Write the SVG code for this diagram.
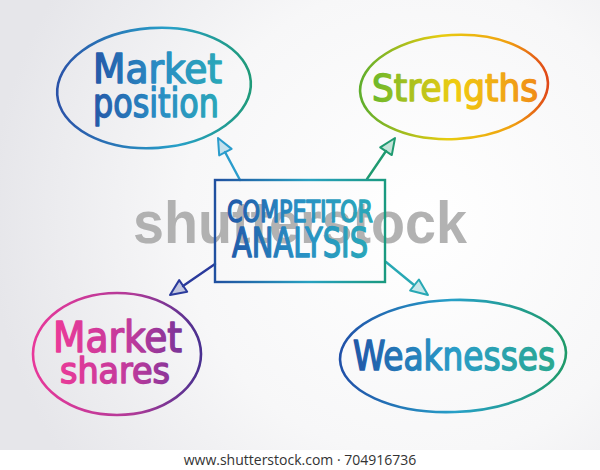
<svg xmlns="http://www.w3.org/2000/svg" width="600" height="470" viewBox="0 0 600 470">
<defs>
<radialGradient id="bg" cx="420" cy="220" r="430" gradientUnits="userSpaceOnUse">
<stop offset="0" stop-color="#ffffff"/><stop offset="0.55" stop-color="#f7f7f8"/><stop offset="1" stop-color="#e6e6ea"/>
</radialGradient>
<linearGradient id="gMP" x1="57" y1="0" x2="252" y2="0" gradientUnits="userSpaceOnUse">
<stop offset="0" stop-color="#2a52a8"/><stop offset="0.6" stop-color="#27a0c8"/><stop offset="1" stop-color="#1f9a78"/>
</linearGradient>
<linearGradient id="gMPt" x1="93" y1="0" x2="222" y2="0" gradientUnits="userSpaceOnUse">
<stop offset="0" stop-color="#2458a8"/><stop offset="0.5" stop-color="#2a8cc4"/><stop offset="1" stop-color="#2aa8b8"/>
</linearGradient>
<linearGradient id="gST" x1="360" y1="0" x2="548" y2="0" gradientUnits="userSpaceOnUse">
<stop offset="0" stop-color="#5fae2c"/><stop offset="0.45" stop-color="#e8cc10"/><stop offset="0.8" stop-color="#f0a010"/><stop offset="1" stop-color="#e04818"/>
</linearGradient>
<linearGradient id="gSTt" x1="372" y1="0" x2="538" y2="0" gradientUnits="userSpaceOnUse">
<stop offset="0" stop-color="#6cb82a"/><stop offset="0.5" stop-color="#f0cc10"/><stop offset="1" stop-color="#f08c18"/>
</linearGradient>
<linearGradient id="gBX" x1="215" y1="0" x2="385" y2="0" gradientUnits="userSpaceOnUse">
<stop offset="0" stop-color="#2050a0"/><stop offset="0.55" stop-color="#27a0c0"/><stop offset="1" stop-color="#1a9a80"/>
</linearGradient>
<linearGradient id="gBXt" x1="227" y1="0" x2="373" y2="0" gradientUnits="userSpaceOnUse">
<stop offset="0" stop-color="#2058a8"/><stop offset="0.5" stop-color="#2890c4"/><stop offset="1" stop-color="#2aa8b8"/>
</linearGradient>
<linearGradient id="gMS" x1="33" y1="0" x2="200" y2="0" gradientUnits="userSpaceOnUse">
<stop offset="0" stop-color="#e8389a"/><stop offset="0.6" stop-color="#b03a98"/><stop offset="1" stop-color="#4a3090"/>
</linearGradient>
<linearGradient id="gMSt" x1="53" y1="0" x2="182" y2="0" gradientUnits="userSpaceOnUse">
<stop offset="0" stop-color="#ec3a98"/><stop offset="0.6" stop-color="#c03a9c"/><stop offset="1" stop-color="#7a3498"/>
</linearGradient>
<linearGradient id="gWK" x1="340" y1="0" x2="567" y2="0" gradientUnits="userSpaceOnUse">
<stop offset="0" stop-color="#2050a8"/><stop offset="0.5" stop-color="#27a0c8"/><stop offset="1" stop-color="#1f9a68"/>
</linearGradient>
<linearGradient id="gWKt" x1="353" y1="0" x2="555" y2="0" gradientUnits="userSpaceOnUse">
<stop offset="0" stop-color="#2058a8"/><stop offset="0.5" stop-color="#2a9cc8"/><stop offset="1" stop-color="#2aa890"/>
</linearGradient>
</defs>
<style>
.ring{fill:none;stroke-width:2.6;stroke-linecap:round}
.lbl{font-family:"DejaVu Sans Condensed","DejaVu Sans",sans-serif;font-weight:normal;stroke-width:1.4;stroke-linejoin:round}
.conn line{stroke-width:2.4;stroke-linecap:round}
.conn polygon{stroke-width:2;stroke-linejoin:round;fill-opacity:0.25}
.wm{font-family:"Liberation Sans",Arial,sans-serif;font-weight:bold;font-size:60px;fill:#a4a4a4;fill-opacity:0.85}
.foot{font-family:"Open Sans","DejaVu Sans",sans-serif;font-size:14px;fill:#333}
</style>
<rect width="600" height="450" fill="url(#bg)"/>
<rect y="450" width="600" height="20" fill="#ffffff"/>

<text class="wm" x="133" y="243" textLength="334" lengthAdjust="spacingAndGlyphs">shutterstock</text>

<g id="connectors" class="conn">
<line x1="240" y1="180" x2="225" y2="152" stroke="#2a9ccc"/>
<polygon points="218,138 231.6,148.9 219.2,155.4" stroke="#2a9ccc" fill="#2a9ccc"/>
<line x1="367" y1="179" x2="386" y2="151" stroke="#1f9a70"/>
<polygon points="395,138 391.8,155.1 380.2,147.3" stroke="#1f9a70" fill="#1f9a70"/>
<line x1="215" y1="264" x2="183" y2="286" stroke="#2a3a9c"/>
<polygon points="170,295 179.2,280.1 187.2,291.7" stroke="#2a3a9c" fill="#2a3a9c"/>
<line x1="386" y1="262" x2="414" y2="285" stroke="#28a8b4"/>
<polygon points="428,295 410.1,290.5 418.9,279.5" stroke="#28a8b4" fill="#28a8b4"/>
</g>

<g id="node-market-position">
<ellipse class="ring" cx="154" cy="88" rx="97" ry="60" transform="rotate(-4 154 88)" stroke="url(#gMP)"/>
<text class="lbl" x="93" y="83" font-size="40" textLength="129" lengthAdjust="spacingAndGlyphs" fill="url(#gMPt)" stroke="url(#gMPt)">Market</text>
<text class="lbl" x="93" y="117" font-size="40" textLength="126" lengthAdjust="spacingAndGlyphs" fill="url(#gMPt)" stroke="url(#gMPt)">position</text>
</g>

<g id="node-strengths">
<ellipse class="ring" cx="454" cy="87" rx="94" ry="52" transform="rotate(-3 454 87)" stroke="url(#gST)"/>
<text class="lbl" x="372" y="101" font-size="38" textLength="166" lengthAdjust="spacingAndGlyphs" fill="url(#gSTt)" stroke="url(#gSTt)">Strengths</text>
</g>

<g id="node-competitor-analysis">
<rect x="215" y="180" width="170" height="102" fill="none" stroke="url(#gBX)" stroke-width="2.4"/>
<text class="lbl" x="227" y="222" font-size="30" textLength="146" lengthAdjust="spacingAndGlyphs" fill="url(#gBXt)" stroke="url(#gBXt)">COMPETITOR</text>
<text class="lbl" x="232" y="257" font-size="40" textLength="136" lengthAdjust="spacingAndGlyphs" fill="url(#gBXt)" stroke="url(#gBXt)">ANALYSIS</text>
</g>

<g id="node-market-shares">
<ellipse class="ring" cx="117" cy="354" rx="84" ry="61" stroke="url(#gMS)"/>
<text class="lbl" x="53" y="352" font-size="43" textLength="129" lengthAdjust="spacingAndGlyphs" fill="url(#gMSt)" stroke="url(#gMSt)">Market</text>
<text class="lbl" x="60" y="383" font-size="36" textLength="110" lengthAdjust="spacingAndGlyphs" fill="url(#gMSt)" stroke="url(#gMSt)">shares</text>
</g>

<g id="node-weaknesses">
<ellipse class="ring" cx="453" cy="356" rx="113" ry="56" transform="rotate(-2 453 356)" stroke="url(#gWK)"/>
<text class="lbl" x="353" y="370" font-size="40" textLength="202" lengthAdjust="spacingAndGlyphs" fill="url(#gWKt)" stroke="url(#gWKt)">Weaknesses</text>
</g>

<text class="foot" x="300" y="465" text-anchor="middle">www.shutterstock.com · 704916736</text>
</svg>
